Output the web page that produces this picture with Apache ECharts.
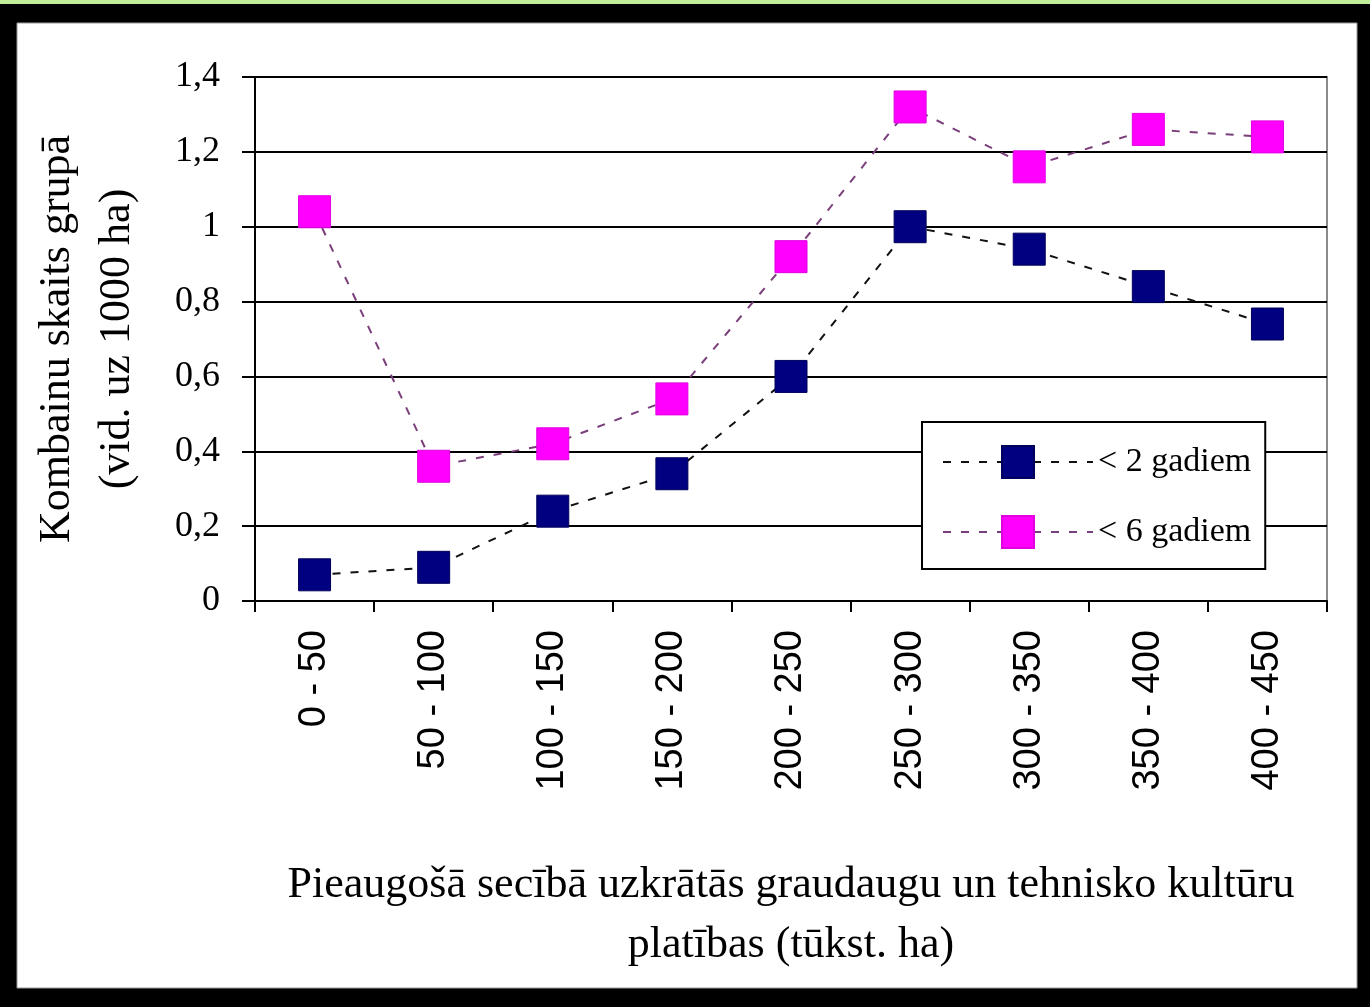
<!DOCTYPE html>
<html>
<head>
<meta charset="utf-8">
<script src="https://cdn.jsdelivr.net/npm/echarts@6/dist/echarts.min.js"></script>
<style>
  html, body { margin: 0; padding: 0; background: #000; }
  #chart { width: 1370px; height: 1007px; }
</style>
</head>
<body>
<div id="chart"></div>
<script>
// Area groups (thousand ha), in ascending cumulative order
const categories = ['0 - 50', '50 - 100', '100 - 150', '150 - 200', '200 - 250',
                    '250 - 300', '300 - 350', '350 - 400', '400 - 450'];
// Combines per group (average per 1000 ha)
const under2Years = [0.07, 0.09, 0.24, 0.34, 0.60, 1.00, 0.94, 0.84, 0.74];
const under6Years = [1.04, 0.36, 0.42, 0.54, 0.92, 1.32, 1.16, 1.26, 1.24];
const seriesNames = ['< 2 gadiem', '< 6 gadiem'];
const yTitle = 'Kombainu skaits grupā\n(vid. uz 1000 ha)';
const xTitle = 'Pieaugošā secībā uzkrātās graudaugu un tehnisko kultūru\nplatības (tūkst. ha)';

const serif = '"Liberation Serif", "DejaVu Serif", serif';
const sans = '"Liberation Sans", Arial, sans-serif';

const chart = echarts.init(document.getElementById('chart'));
chart.setOption({
  backgroundColor: '#000',
  animation: false,
  graphic: [
    { type: 'rect', shape: { x: 0, y: 0, width: 1370, height: 4 }, style: { fill: '#c2ee9c' }, z: -10 },
    { type: 'rect', shape: { x: 17, y: 23, width: 1340, height: 965 },
      style: { fill: '#fff', stroke: '#9a9a9a', lineWidth: 1 }, z: -10 }
  ],
  grid: {
    left: 255, right: 43, top: 77, bottom: 406,
    show: true, borderColor: '#8a8a8a', borderWidth: 2, backgroundColor: '#fff'
  },
  legend: {
    orient: 'vertical',
    left: 922, top: 422,
    padding: [23, 14, 20, 20],
    itemGap: 36,
    itemWidth: 150, itemHeight: 40,
    backgroundColor: '#fff',
    borderColor: '#000', borderWidth: 2,
    textStyle: { fontFamily: serif, fontSize: 34, color: '#000' },
    data: seriesNames
  },
  xAxis: {
    type: 'category',
    data: categories,
    boundaryGap: true,
    axisLine: { lineStyle: { color: '#000', width: 2 } },
    axisTick: { show: true, length: 11, lineStyle: { color: '#000', width: 2 } },
    axisLabel: { rotate: 90, margin: 29, fontFamily: sans, fontSize: 38, color: '#000' },
    name: xTitle,
    nameLocation: 'middle',
    nameGap: 254,
    nameTextStyle: { fontFamily: serif, fontSize: 44, color: '#000', lineHeight: 60 }
  },
  yAxis: {
    type: 'value',
    min: 0, max: 1.4, interval: 0.2,
    axisLine: { show: true, lineStyle: { color: '#000', width: 2 } },
    axisTick: { show: true, length: 13, lineStyle: { color: '#000', width: 2 } },
    axisLabel: {
      margin: 35, fontFamily: serif, fontSize: 36, color: '#000',
      formatter: v => String(Math.round(v * 10) / 10).replace('.', ',')
    },
    splitLine: { show: true, lineStyle: { color: '#000', width: 2 } },
    name: yTitle,
    nameLocation: 'middle',
    nameRotate: 90,
    nameGap: 108,
    nameTextStyle: { fontFamily: serif, fontSize: 44, color: '#000', lineHeight: 60 }
  },
  series: [
    {
      name: seriesNames[0],
      type: 'line',
      data: under2Years,
      symbol: 'rect', symbolSize: 32,
      itemStyle: { color: '#000080', borderColor: '#00005a', borderWidth: 1 },
      lineStyle: { color: '#111', width: 2, type: [8, 10] },
      z: 3
    },
    {
      name: seriesNames[1],
      type: 'line',
      data: under6Years,
      symbol: 'rect', symbolSize: 32,
      itemStyle: { color: '#ff00ff', borderColor: '#e000e0', borderWidth: 1 },
      lineStyle: { color: '#7a3f7a', width: 2, type: [8, 10] },
      z: 3
    }
  ]
});
</script>
</body>
</html>
